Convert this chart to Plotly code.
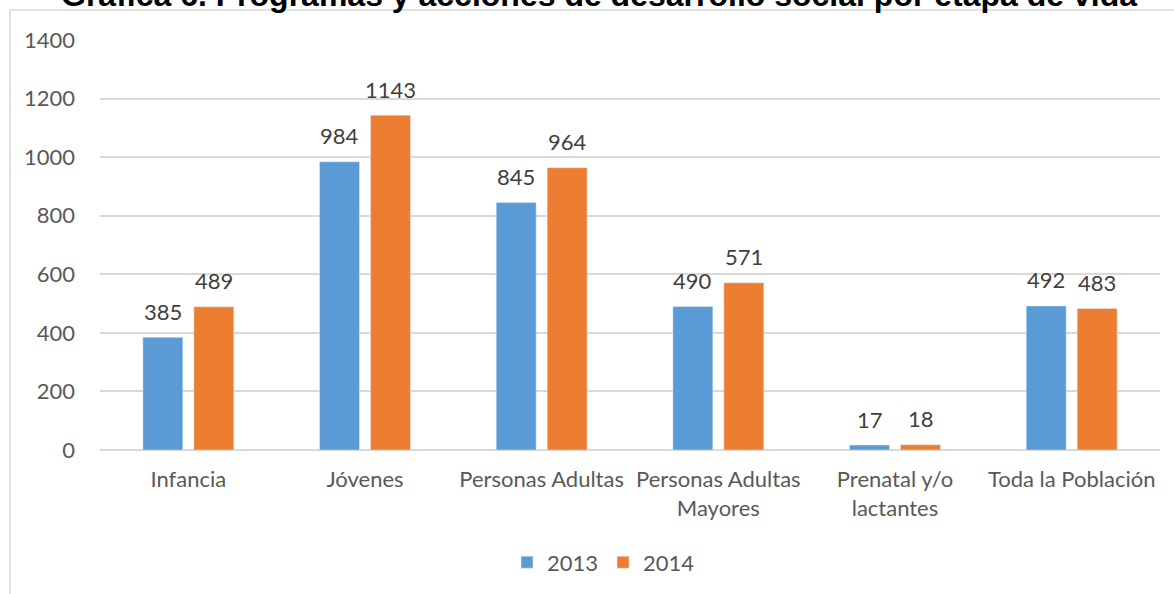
import plotly.graph_objects as go

categorias = ['Infancia', 'Jóvenes', 'Personas Adultas', 'Personas Adultas<br>Mayores',
              'Prenatal y/o<br>lactantes', 'Toda la Población']
valores_2013 = [385, 984, 845, 490, 17, 492]
valores_2014 = [489, 1143, 964, 571, 18, 483]
y_ticks = [0, 200, 400, 600, 800, 1000, 1200, 1400]

fig = go.Figure()

fig.add_trace(go.Bar(x=categorias, y=valores_2013, name='2013',
                     marker=dict(color='#5B9BD5'), hoverinfo='skip'))
fig.add_trace(go.Bar(x=categorias, y=valores_2014, name='2014',
                     marker=dict(color='#ED7D31'), hoverinfo='skip'))

# etiquetas de datos sobre cada barra
etiquetas = []
for serie, desplaz in [(valores_2013, -25.5), (valores_2014, 25.5)]:
    for cat, val in zip(categorias, serie):
        etiquetas.append(dict(x=cat, y=val, text=str(val), showarrow=False,
                              xshift=desplaz, yshift=26, yanchor='middle',
                              font=dict(family='Lato', size=22, color='#404040')))

etiquetas.append(dict(text='<b>Gráfica 6. Programas y acciones de desarrollo social por etapa de vida</b>',
                      xref='paper', yref='paper', x=(599 - 100) / 1060, y=1 + 25 / 410,
                      xanchor='center', yanchor='bottom', showarrow=False,
                      font=dict(family='Liberation Sans', size=32, color='black')))

fig.update_layout(
    width=1174, height=594,
    margin=dict(l=100, r=14, t=40, b=144, autoexpand=False),
    paper_bgcolor='white', plot_bgcolor='white',
    barmode='group', bargap=0.423, bargroupgap=0.216,
    font=dict(family='Lato', size=22, color='#595959'),
    showlegend=True,
    legend=dict(orientation='h', x=0.475, xanchor='center', y=-0.223, yanchor='top',
                font=dict(size=22, color='#595959')),
    xaxis=dict(showgrid=False, showline=False, ticks='', tickfont=dict(size=22),
               ticklabelstandoff=14, automargin=False),
    yaxis=dict(range=[0, 1400], tickvals=y_ticks, showgrid=True, gridcolor='#D9D9D9',
               gridwidth=1.5, zeroline=True, zerolinecolor='#D9D9D9', zerolinewidth=1.5,
               showline=False, ticks='', ticklabelstandoff=24, tickfont=dict(size=22),
               automargin=False),
    shapes=[dict(type='rect', xref='paper', yref='paper',
                 x0=(10 - 100) / 1060, x1=1.05, y0=-0.5, y1=1 + 30 / 410,
                 line=dict(color='#D9D9D9', width=1.5), layer='below')],
    annotations=etiquetas,
)

fig.write_html('out.html', config={'displayModeBar': False},
               post_script="document.body.style.margin='0';")
